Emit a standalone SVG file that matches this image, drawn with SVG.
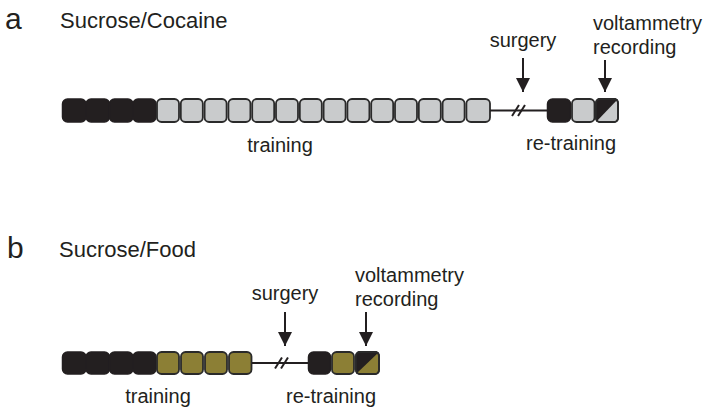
<svg xmlns="http://www.w3.org/2000/svg" width="712" height="417" viewBox="0 0 712 417">
<defs>
<style>
text{font-family:"Liberation Sans",Arial,sans-serif;fill:#231f20}
.panel{font-size:30px}
.title{font-size:22px}
.lbl{font-size:20px}
.blk{fill:#231f20;stroke:#231f20;stroke-width:1.5}
.gry{fill:#c9cbcc;stroke:#2a2a2a;stroke-width:1.8}
.olv{fill:#8c7f35;stroke:#2a2a2a;stroke-width:1.8}
.ln{stroke:#231f20;stroke-width:2;fill:none}
</style>
<marker id="ah" viewBox="0 0 10 10" refX="10" refY="5" markerWidth="14" markerHeight="15" markerUnits="userSpaceOnUse" orient="auto">
<path d="M0,0 L10,5 L0,10 z" fill="#231f20"/>
</marker>
</defs>
<rect width="712" height="417" fill="#ffffff"/>

<g id="panel-a">
<text class="panel" x="5" y="29">a</text>
<text class="title" x="60" y="28">Sucrose/Cocaine</text>
</g>

<g id="a-training">
<rect class="blk" x="62.5" y="99" width="23.5" height="23" rx="5"/>
<rect class="blk" x="86" y="99" width="23.5" height="23" rx="5"/>
<rect class="blk" x="109.5" y="99" width="23.5" height="23" rx="5"/>
<rect class="blk" x="133" y="99" width="23" height="23" rx="5"/>
<rect class="gry" x="157" y="99" width="22" height="23" rx="4.5"/>
<rect class="gry" x="180.8" y="99" width="22" height="23" rx="4.5"/>
<rect class="gry" x="204.6" y="99" width="22" height="23" rx="4.5"/>
<rect class="gry" x="228.4" y="99" width="22" height="23" rx="4.5"/>
<rect class="gry" x="252.2" y="99" width="22" height="23" rx="4.5"/>
<rect class="gry" x="276" y="99" width="22" height="23" rx="4.5"/>
<rect class="gry" x="299.8" y="99" width="22" height="23" rx="4.5"/>
<rect class="gry" x="323.6" y="99" width="22" height="23" rx="4.5"/>
<rect class="gry" x="347.4" y="99" width="22" height="23" rx="4.5"/>
<rect class="gry" x="371.2" y="99" width="22" height="23" rx="4.5"/>
<rect class="gry" x="395" y="99" width="22" height="23" rx="4.5"/>
<rect class="gry" x="418.8" y="99" width="22" height="23" rx="4.5"/>
<rect class="gry" x="442.6" y="99" width="22" height="23" rx="4.5"/>
<rect class="gry" x="466.4" y="99" width="23.6" height="23" rx="4.5"/>
<text class="lbl" x="280" y="152" text-anchor="middle">training</text>
</g>

<g id="a-retraining">
<rect class="blk" x="547.5" y="99" width="23" height="23" rx="5"/>
<rect class="gry" x="572" y="99" width="22.5" height="23" rx="4.5"/>
<g>
<rect class="gry" x="596" y="99" width="22" height="23" rx="4"/>
<path d="M600,99 L618,99 L596,122 L596,103 Q596,99 600,99 z" fill="#231f20"/>
<rect x="596" y="99" width="22" height="23" rx="4" fill="none" stroke="#2a2a2a" stroke-width="1.8"/>
</g>
<text class="lbl" x="571" y="150" text-anchor="middle">re-training</text>
</g>

<g id="a-surgery">
<text class="lbl" x="523" y="47" text-anchor="middle">surgery</text>
</g>
<g id="a-voltammetry">
<text class="lbl" x="593" y="30">voltammetry</text>
<text class="lbl" x="593" y="54">recording</text>
</g>

<g id="panel-b">
<text class="panel" x="7" y="258">b</text>
<text class="title" x="59" y="257">Sucrose/Food</text>
</g>

<g id="b-training">
<rect class="blk" x="62.5" y="352" width="23.5" height="22" rx="5"/>
<rect class="blk" x="86" y="352" width="23.5" height="22" rx="5"/>
<rect class="blk" x="109.5" y="352" width="23.5" height="22" rx="5"/>
<rect class="blk" x="133" y="352" width="23" height="22" rx="5"/>
<rect class="olv" x="157" y="352" width="22" height="22" rx="4.5"/>
<rect class="olv" x="181" y="352" width="22" height="22" rx="4.5"/>
<rect class="olv" x="205" y="352" width="22" height="22" rx="4.5"/>
<rect class="olv" x="229" y="352" width="22.5" height="22" rx="4.5"/>
<text class="lbl" x="158" y="403" text-anchor="middle">training</text>
</g>

<g id="b-retraining">
<rect class="blk" x="308.5" y="352" width="22" height="22" rx="5"/>
<rect class="olv" x="332" y="352" width="22" height="22" rx="4.5"/>
<g>
<rect class="olv" x="356" y="352" width="23" height="22" rx="4"/>
<path d="M360,352 L379,352 L356,374 L356,356 Q356,352 360,352 z" fill="#231f20"/>
<rect x="356" y="352" width="23" height="22" rx="4" fill="none" stroke="#2a2a2a" stroke-width="1.8"/>
</g>
<text class="lbl" x="331" y="403" text-anchor="middle">re-training</text>
</g>

<g id="b-surgery">
<text class="lbl" x="285" y="300" text-anchor="middle">surgery</text>
</g>
<g id="b-voltammetry">
<text class="lbl" x="355" y="282">voltammetry</text>
<text class="lbl" x="355" y="306">recording</text>
</g>

<g id="connectors">
<line class="ln" x1="490" y1="110.5" x2="547" y2="110.5"/>
<line class="ln" x1="512" y1="116" x2="519" y2="105"/>
<line class="ln" x1="518" y1="116" x2="525" y2="105"/>
<line class="ln" x1="523" y1="58" x2="523" y2="92" marker-end="url(#ah)"/>
<line class="ln" x1="605" y1="60" x2="605" y2="92" marker-end="url(#ah)"/>
<line class="ln" x1="252" y1="363" x2="308" y2="363"/>
<line class="ln" x1="275" y1="368.5" x2="282" y2="357.5"/>
<line class="ln" x1="281" y1="368.5" x2="288" y2="357.5"/>
<line class="ln" x1="285" y1="312" x2="285" y2="346" marker-end="url(#ah)"/>
<line class="ln" x1="366" y1="312" x2="366" y2="346" marker-end="url(#ah)"/>
</g>
</svg>
